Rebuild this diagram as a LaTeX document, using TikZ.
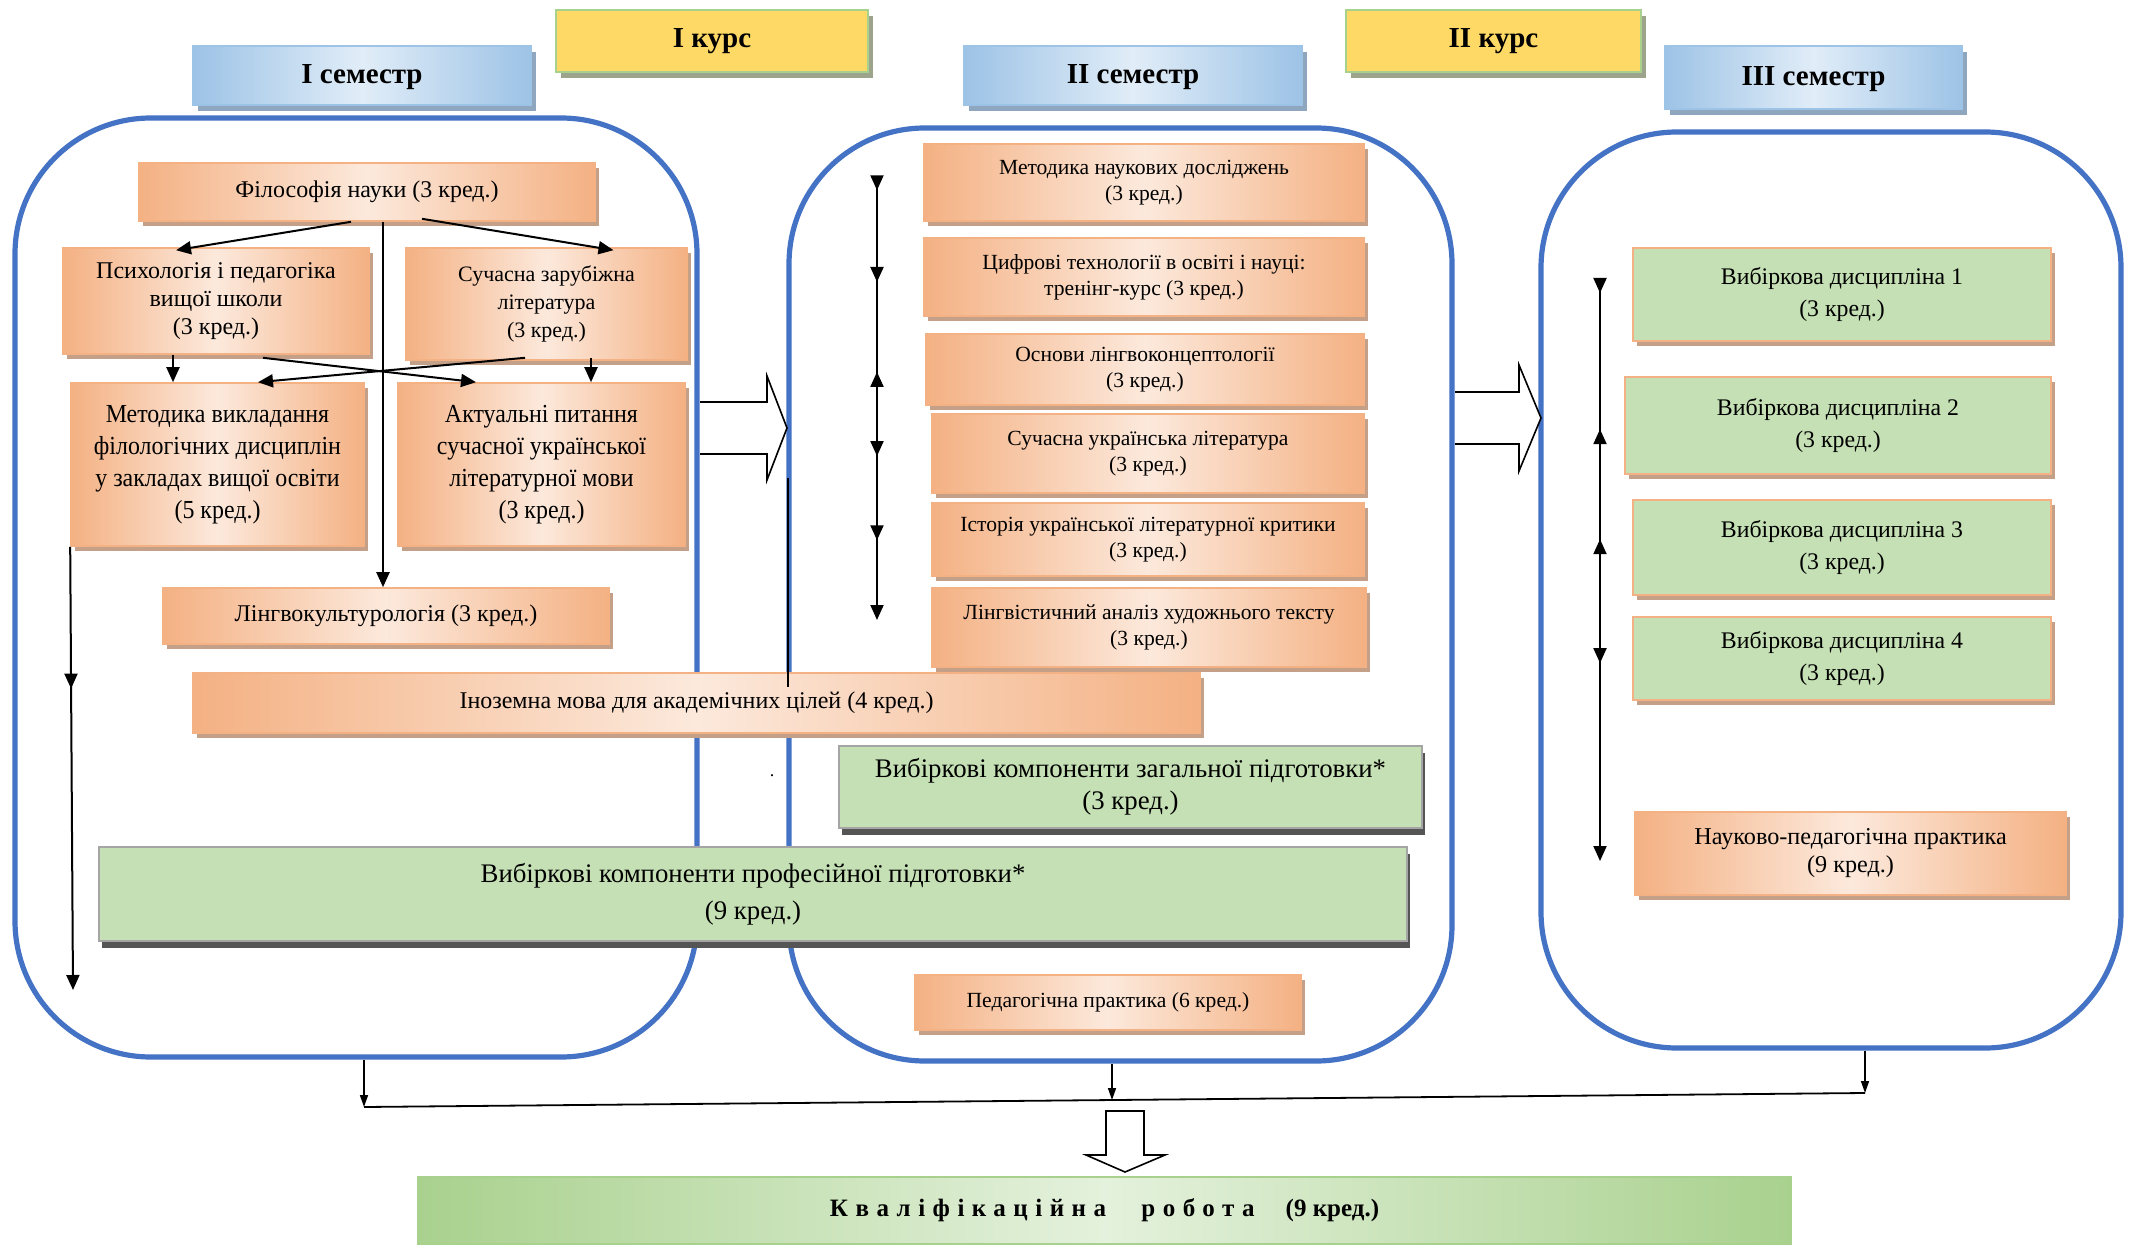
\documentclass[tikz,border=0pt]{standalone}
\usepackage{fontspec}
\setmainfont{Liberation Serif}
\usetikzlibrary{positioning,calc,shadows,arrows.meta,decorations.markings}

\definecolor{orD}{HTML}{F4B183}
\definecolor{orL}{HTML}{FCE9DC}
\definecolor{orSh}{HTML}{C4A088}
\definecolor{grF}{HTML}{C5E0B4}
\definecolor{grB}{HTML}{A5A5A5}
\definecolor{grSh}{HTML}{555555}
\definecolor{blD}{HTML}{9DC3E6}
\definecolor{blL}{HTML}{E1EDF8}
\definecolor{blSh}{HTML}{8FA7BE}
\definecolor{yeF}{HTML}{FFD966}
\definecolor{yeB}{HTML}{A9D18E}
\definecolor{yeSh}{HTML}{9CA58C}
\definecolor{frameblue}{HTML}{4472C4}
\definecolor{kvD}{HTML}{A9D18E}
\definecolor{kvL}{HTML}{E4F1DC}

\begin{document}
\begin{tikzpicture}[x=0.5pt, y=-0.5pt,
    every node/.style={align=center, inner sep=1pt},
    tri/.tip={Triangle[length=7.5pt, width=6.5pt]},
    arr/.style={line width=1pt, -{tri}},
    thin arr/.style={line width=0.8pt, -{Triangle[length=6pt, width=4pt]}},
    sembox/.style={draw=frameblue, line width=2.6pt, rounded corners=68pt},
    bhead/.style={draw=blD, line width=0.8pt, left color=blD, right color=blD, middle color=blL,
      general shadow={fill=blSh, shadow xshift=2.5pt, shadow yshift=-3pt},
      font=\fontsize{14.5pt}{17pt}\selectfont\bfseries},
    yhead/.style={draw=yeB, line width=1.2pt, fill=yeF,
      general shadow={fill=yeSh, shadow xshift=2.5pt, shadow yshift=-3pt},
      font=\fontsize{14.5pt}{17pt}\selectfont\bfseries},
    obox/.style={draw=orD, line width=0.8pt, left color=orD, right color=orD, middle color=orL,
      general shadow={fill=orSh, shadow xshift=2pt, shadow yshift=-2.5pt}},
    vbox/.style={draw=orD, line width=0.8pt, fill=grF,
      general shadow={fill=orSh, shadow xshift=2pt, shadow yshift=-2.5pt}},
    kbox/.style={draw=grB, line width=1.2pt, fill=grF,
      general shadow={fill=grSh, shadow xshift=1.5pt, shadow yshift=-3.5pt}},
    barr/.style={draw, line width=0.8pt, fill=white, line join=miter},
    big/.style={font=\fontsize{13pt}{16pt}\selectfont\addfontfeature{FakeStretch=0.92}},
    mid/.style={font=\fontsize{12pt}{14pt}\selectfont},
    small/.style={font=\fontsize{10.8pt}{13pt}\selectfont}
  ]
  \useasboundingbox (0,0) rectangle (2136,1246);

  % headers
  \node[bhead, minimum width=169pt, minimum height=29.5pt, text depth=1pt] (sem1) at (362,75.5) {I семестр};
  \node[yhead, minimum width=156pt, minimum height=31pt] (kurs1) at (712,41) {I курс};
  \node[bhead, minimum width=169pt, minimum height=29.5pt, text depth=1pt] (sem2) at (1133,75.5) {II семестр};
  \node[yhead, minimum width=147.5pt, minimum height=31pt] (kurs2) at (1493.5,41) {II курс};
  \node[bhead, minimum width=148.5pt, minimum height=31.5pt, text depth=1pt] (sem3) at (1813.5,77.5) {III семестр};

  % semester frames
  \node[sembox, minimum width=341pt, minimum height=469.5pt] (box1) at (356,587.5) {};
  \node[sembox, minimum width=331.5pt, minimum height=466.5pt] (box2) at (1120.5,594.5) {};
  \node[sembox, minimum width=290pt, minimum height=458pt] (box3) at (1831,590) {};

  % block arrows
  \draw[barr] (700,402) -- (767,402) -- (767,376) -- (787,428) -- (767,480) -- (767,454) -- (700,454);
  \draw[barr] (1455,392) -- (1519,392) -- (1519,365) -- (1541,418) -- (1519,471) -- (1519,444) -- (1455,444);
  \draw[barr] (1106,1111) -- (1144,1111) -- (1144,1155) -- (1165,1155) -- (1125,1172)
    -- (1086,1155) -- (1106,1155) -- cycle;

  % I semester
  \node[obox, mid, minimum width=228pt, minimum height=29pt] (fil) at (367,192) {Філософія науки (3 кред.)};
  \node[obox, mid, minimum width=153pt, minimum height=53pt] (psy) at (216,301)
    {Психологія і педагогіка\\вищої школи\\(3 кред.)};
  \node[obox, font=\fontsize{11pt}{14pt}\selectfont, minimum width=140.5pt, minimum height=56pt] (zar) at (546.5,304)
    {Сучасна зарубіжна\\література\\(3 кред.)};
  \node[obox, big, minimum width=146.5pt, minimum height=81.5pt] (met) at (217.5,464.5)
    {Методика викладання\\філологічних дисциплін\\у закладах вищої освіти\\(5 кред.)};
  \node[obox, big, minimum width=143.5pt, minimum height=81.5pt] (akt) at (541.5,464.5)
    {Актуальні питання\\сучасної української\\літературної мови\\(3 кред.)};
  \node[obox, mid, minimum width=223pt, minimum height=28pt] (lingv) at (386,616) {Лінгвокультурологія (3 кред.)};

  % II semester
  \node[obox, small, minimum width=220pt, minimum height=38.5pt] (mnd) at (1144,182.5)
    {Методика наукових досліджень\\(3 кред.)};
  \node[obox, small, minimum width=220pt, minimum height=39pt] (cyf) at (1144,277)
    {Цифрові технології в освіті і науці:\\тренінг-курс (3 кред.)};
  \node[obox, small, minimum width=219pt, minimum height=35.5pt] (osn) at (1145,369.5)
    {Основи лінгвоконцептології\\(3 кред.)};
  \node[obox, small, minimum width=216pt, minimum height=39.5pt] (sul) at (1148,453.5)
    {Сучасна українська література\\(3 кред.)};
  \node[obox, small, minimum width=216pt, minimum height=36.5pt] (ist) at (1148,539.5)
    {Історія української літературної критики\\(3 кред.)};
  \node[obox, small, minimum width=217pt, minimum height=39.5pt] (lan) at (1149,627.5)
    {Лінгвістичний аналіз художнього тексту\\(3 кред.)};
  \node[obox, small, minimum width=193pt, minimum height=27.5pt] (ped) at (1108,1002.5)
    {Педагогічна практика (6 кред.)};

  % across semesters
  \node[obox, mid, minimum width=503.5pt, minimum height=30pt] (inoz) at (696.5,703)
    {Іноземна мова для академічних цілей (4 кред.)};
  \node[kbox, font=\fontsize{13.4pt}{16pt}\selectfont, minimum width=291.5pt, minimum height=41pt] (zag) at (1130.5,787)
    {Вибіркові компоненти загальної підготовки*\\(3 кред.)};
  \node[kbox, font=\fontsize{13.4pt}{18.5pt}\selectfont, minimum width=654pt, minimum height=47pt] (prof) at (753,894)
    {Вибіркові компоненти професійної підготовки*\\(9 кред.)};
  \node[font=\small] (dot) at (772,776) {.};

  % III semester
  \node[vbox, font=\fontsize{11.9pt}{16pt}\selectfont, minimum width=209pt, minimum height=46.5pt] (vd1) at (1842,294.5)
    {Вибіркова дисципліна 1\\(3 кред.)};
  \node[vbox, font=\fontsize{11.9pt}{16pt}\selectfont, minimum width=213pt, minimum height=48.5pt] (vd2) at (1838,425.5)
    {Вибіркова дисципліна 2\\(3 кред.)};
  \node[vbox, font=\fontsize{11.9pt}{16pt}\selectfont, minimum width=209pt, minimum height=47.5pt] (vd3) at (1842,547.5)
    {Вибіркова дисципліна 3\\(3 кред.)};
  \node[vbox, font=\fontsize{11.9pt}{16pt}\selectfont, minimum width=209pt, minimum height=41.5pt] (vd4) at (1842,658.5)
    {Вибіркова дисципліна 4\\(3 кред.)};
  \node[obox, font=\fontsize{12.1pt}{14pt}\selectfont, minimum width=215.5pt, minimum height=41.5pt] (npp) at (1850.5,853.5)
    {Науково-педагогічна практика\\(9 кред.)};

  % final work
  \node[draw=kvD, line width=0.8pt, left color=kvD, right color=kvD, middle color=kvL,
    minimum width=686.5pt, minimum height=33.5pt,
    font=\fontsize{12.5pt}{14pt}\selectfont\bfseries] (kval) at (1104.5,1210.5)
    {{\addfontfeature{LetterSpace=30}Кваліфікаційна}\hspace{14.5pt}
     {\addfontfeature{LetterSpace=30}робота}\hspace{15.5pt}(9 кред.)};

  % edges in I semester
  \draw[arr] ($(fil.south)+(-16,0)$) -- ($(psy.north)+(-40,3)$);
  \draw[arr] ($(fil.south)+(55,-3)$) -- ($(zar.north)+(67,3)$);
  \draw[arr] ($(fil.south)+(16,0)$) -- ($(lingv.north)+(-3,0)$);
  \draw[arr] ($(psy.south)+(-43,0)$) -- ($(met.north)+(-44.5,0)$);
  \draw[arr] ($(zar.south)+(44.5,-3)$) -- ($(akt.north)+(49.5,0)$);
  \draw[arr] ($(psy.south)+(47,3)$) -- ($(akt.north)+(-65.5,0)$);
  \draw[arr] ($(zar.south)+(-21.5,-3)$) -- ($(met.north)+(40.5,0)$);
  \coordinate (e1) at (73,990);
  \draw[arr, decoration={markings, mark=at position 0.32 with {\arrow{tri}}}, postaction=decorate]
    (met.south west) -- (e1);

  % time lines in II and III semester
  \coordinate (t2a) at (877,177);
  \coordinate (t2b) at (877,620);
  \draw[arr, decoration={markings,
      mark=at position 0.03 with {\arrow{tri}},
      mark=at position 0.237 with {\arrow{tri}},
      mark=at position 0.44 with {\arrowreversed{tri}},
      mark=at position 0.63 with {\arrow{tri}},
      mark=at position 0.82 with {\arrow{tri}}}, postaction=decorate]
    (t2a) -- (t2b);
  \coordinate (t3a) at (1600,279);
  \coordinate (t3b) at (1600,861);
  \draw[arr, decoration={markings,
      mark=at position 0.024 with {\arrow{tri}},
      mark=at position 0.258 with {\arrowreversed{tri}},
      mark=at position 0.447 with {\arrowreversed{tri}},
      mark=at position 0.66 with {\arrow{tri}}}, postaction=decorate]
    (t3a) -- (t3b);
  \draw[line width=0.8pt] (788,478) -- (788,687);

  % towards the final work
  \coordinate (j1) at (364,1107);
  \coordinate (j2) at (1112,1100);
  \coordinate (j3) at (1865,1093);
  \draw[thin arr] ($(box1.south)+(8,0)$) -- (j1);
  \draw[thin arr] ($(box2.south)+(-8.5,0)$) -- (j2);
  \draw[thin arr] ($(box3.south)+(34,0)$) -- (j3);
  \draw[line width=0.9pt] (j1) -- (j3);
\end{tikzpicture}
\end{document}
